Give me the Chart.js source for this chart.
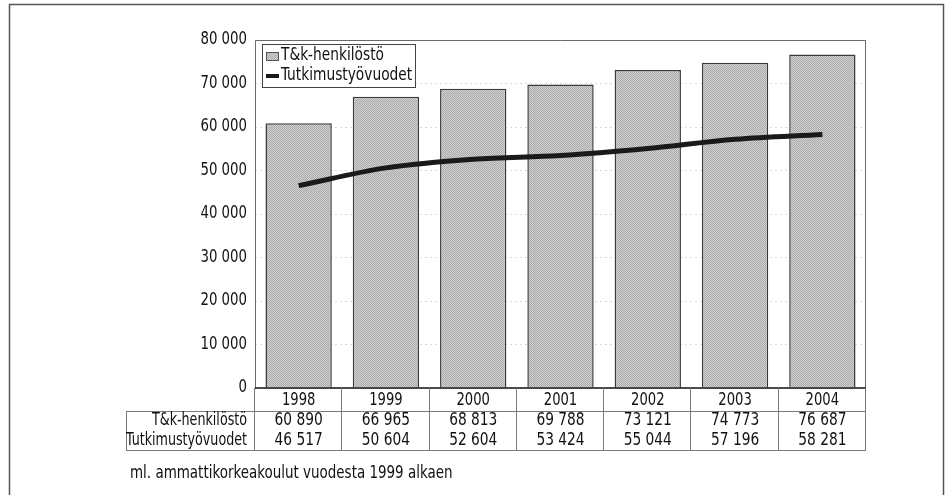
<!DOCTYPE html>
<html lang="fi">
<head>
<meta charset="utf-8">
<title>T&amp;k-henkilöstö ja tutkimustyövuodet</title>
<script src="https://cdn.jsdelivr.net/npm/chart.js@4.4.1/dist/chart.umd.min.js"></script>
<style>
  html, body { margin: 0; padding: 0; background: #fff; }
  #wrap { width: 948px; height: 495px; position: relative; }
</style>
</head>
<body>
<div id="wrap"><canvas id="chart" width="948" height="495"></canvas></div>
<script>
// data
const years = ["1998", "1999", "2000", "2001", "2002", "2003", "2004"];
const tkHenkilosto = [60890, 66965, 68813, 69788, 73121, 74773, 76687];
const tutkimustyovuodet = [46517, 50604, 52604, 53424, 55044, 57196, 58281];
const seriesNames = ["T&k-henkilöstö", "Tutkimustyövuodet"];
const footnote = "ml. ammattikorkeakoulut vuodesta 1999 alkaen";
const yMax = 80000;
const yStep = 10000;

const FONT = '"DejaVu Sans Condensed", "Liberation Sans Narrow", "Liberation Sans", sans-serif';
const TXT = "#111";

function fmt(n) {
  return String(n).replace(/\B(?=(\d{3})+(?!\d))/g, " ");
}

// the print uses a narrow face, so squeeze the condensed font a bit
function narrowText(ctx, text, x, y, align, sx) {
  ctx.save();
  ctx.translate(x, y);
  ctx.scale(sx, 1);
  ctx.textAlign = align;
  ctx.fillText(text, 0, 0);
  ctx.restore();
}

// stippled grey like the printed bars
function makePattern() {
  const c = document.createElement("canvas");
  c.width = 2; c.height = 2;
  const g = c.getContext("2d");
  g.fillStyle = "#d2d2d2";
  g.fillRect(0, 0, 2, 2);
  g.fillStyle = "#a9a9a9";
  g.fillRect(0, 0, 1, 1);
  g.fillRect(1, 1, 1, 1);
  return g.createPattern(c, "repeat");
}
const barFill = makePattern();

const framePlugin = {
  id: "frameAndTable",
  afterDatasetsDraw(chart) {
    const ctx = chart.ctx;
    const a = chart.chartArea;
    ctx.save();
    // plot frame
    ctx.strokeStyle = "#6a6a6a";
    ctx.lineWidth = 1;
    ctx.beginPath();
    ctx.moveTo(a.left + 0.5, a.bottom);
    ctx.lineTo(a.left + 0.5, a.top + 0.5);
    ctx.lineTo(a.right - 0.5, a.top + 0.5);
    ctx.lineTo(a.right - 0.5, a.bottom);
    ctx.stroke();
    ctx.strokeStyle = "#111";
    ctx.lineWidth = 1.5;
    ctx.beginPath();
    ctx.moveTo(a.left, a.bottom);
    ctx.lineTo(a.right, a.bottom);
    ctx.stroke();

    // legend box
    const lx = a.left + 7, ly = a.top + 4, lw = 153, lh = 43;
    ctx.fillStyle = "#fff";
    ctx.fillRect(lx, ly, lw, lh);
    ctx.strokeStyle = "#444";
    ctx.lineWidth = 1;
    ctx.strokeRect(lx + 0.5, ly + 0.5, lw, lh);
    ctx.fillStyle = barFill;
    ctx.fillRect(lx + 4, ly + 8, 13, 9);
    ctx.strokeStyle = "#555";
    ctx.strokeRect(lx + 4.5, ly + 8.5, 12, 8);
    ctx.strokeStyle = "#1a1a1a";
    ctx.lineWidth = 4;
    ctx.beginPath();
    ctx.moveTo(lx + 4, ly + 32);
    ctx.lineTo(lx + 17, ly + 32);
    ctx.stroke();
    ctx.fillStyle = TXT;
    ctx.font = "17px " + FONT;
    ctx.textBaseline = "middle";
    narrowText(ctx, seriesNames[0], lx + 19, ly + 12, "left", 0.9);
    narrowText(ctx, seriesNames[1], lx + 19, ly + 32, "left", 0.9);
    ctx.restore();
  },
  afterDraw(chart) {
    const ctx = chart.ctx;
    const a = chart.chartArea;
    const xs = chart.scales.x;
    const ys = chart.scales.y;
    const n = years.length;
    const colW = (a.right - a.left) / n;
    const edges = years.map((_, i) => xs.getPixelForValue(i) - colW / 2);
    edges.push(a.right);
    const labelLeft = 126;
    const yearLine = a.bottom + 23;
    const tBottom = a.bottom + 62;

    ctx.save();
    // outer frame
    ctx.strokeStyle = "#555";
    ctx.lineWidth = 1.5;
    ctx.strokeRect(9.5, 4.5, 934, 500);

    // y tick labels from the scale's own ticks
    ctx.fillStyle = TXT;
    ctx.font = "17px " + FONT;
    ctx.textBaseline = "middle";
    ys.ticks.forEach(t => {
      narrowText(ctx, fmt(t.value), a.left - 8, ys.getPixelForValue(t.value), "right", 0.87);
    });

    // data table grid
    ctx.strokeStyle = "#7a7a7a";
    ctx.lineWidth = 1;
    ctx.beginPath();
    ctx.moveTo(labelLeft, yearLine + 0.5);
    ctx.lineTo(a.right, yearLine + 0.5);
    ctx.moveTo(labelLeft, tBottom + 0.5);
    ctx.lineTo(a.right, tBottom + 0.5);
    ctx.moveTo(labelLeft + 0.5, yearLine);
    ctx.lineTo(labelLeft + 0.5, tBottom);
    edges.forEach(x => {
      const px = Math.round(x) - 0.5;
      ctx.moveTo(px, a.bottom);
      ctx.lineTo(px, tBottom);
    });
    ctx.stroke();

    years.forEach((yr, i) => {
      const cx = xs.getPixelForValue(i);
      narrowText(ctx, yr, cx, a.bottom + 13, "center", 0.86);
      narrowText(ctx, fmt(tkHenkilosto[i]), cx, a.bottom + 33, "center", 0.9);
      narrowText(ctx, fmt(tutkimustyovuodet[i]), cx, a.bottom + 53, "center", 0.9);
    });
    narrowText(ctx, seriesNames[0], a.left - 8, a.bottom + 33, "right", 0.83);
    narrowText(ctx, seriesNames[1], a.left - 8, a.bottom + 53, "right", 0.83);

    narrowText(ctx, footnote, 130, a.bottom + 86, "left", 0.88);
    ctx.restore();
  }
};

new Chart(document.getElementById("chart").getContext("2d"), {
  type: "bar",
  data: {
    labels: years,
    datasets: [
      {
        type: "line",
        label: seriesNames[1],
        data: tutkimustyovuodet,
        borderColor: "#1a1a1a",
        borderWidth: 5,
        tension: 0.35,
        pointRadius: 0,
        fill: false,
        order: 0
      },
      {
        label: seriesNames[0],
        data: tkHenkilosto,
        backgroundColor: barFill,
        borderColor: "#3a3a3a",
        borderWidth: 1.5,
        borderSkipped: "bottom",
        categoryPercentage: 1,
        barPercentage: 0.76,
        order: 1
      }
    ]
  },
  options: {
    responsive: false,
    animation: false,
    devicePixelRatio: 1,
    layout: { padding: { left: 20, right: 82, top: 40, bottom: 107 } },
    plugins: {
      legend: { display: false },
      tooltip: { enabled: false }
    },
    scales: {
      x: {
        offset: true,
        ticks: { display: false },
        grid: { display: false, drawTicks: false },
        border: { display: false }
      },
      y: {
        min: 0,
        max: yMax,
        afterFit: s => { s.width = 235; },
        ticks: { stepSize: yStep, display: false },
        grid: { color: "#dadada", lineWidth: 1, drawTicks: false },
        border: { display: false, dash: [2, 3] }
      }
    }
  },
  plugins: [framePlugin]
});
</script>
</body>
</html>
